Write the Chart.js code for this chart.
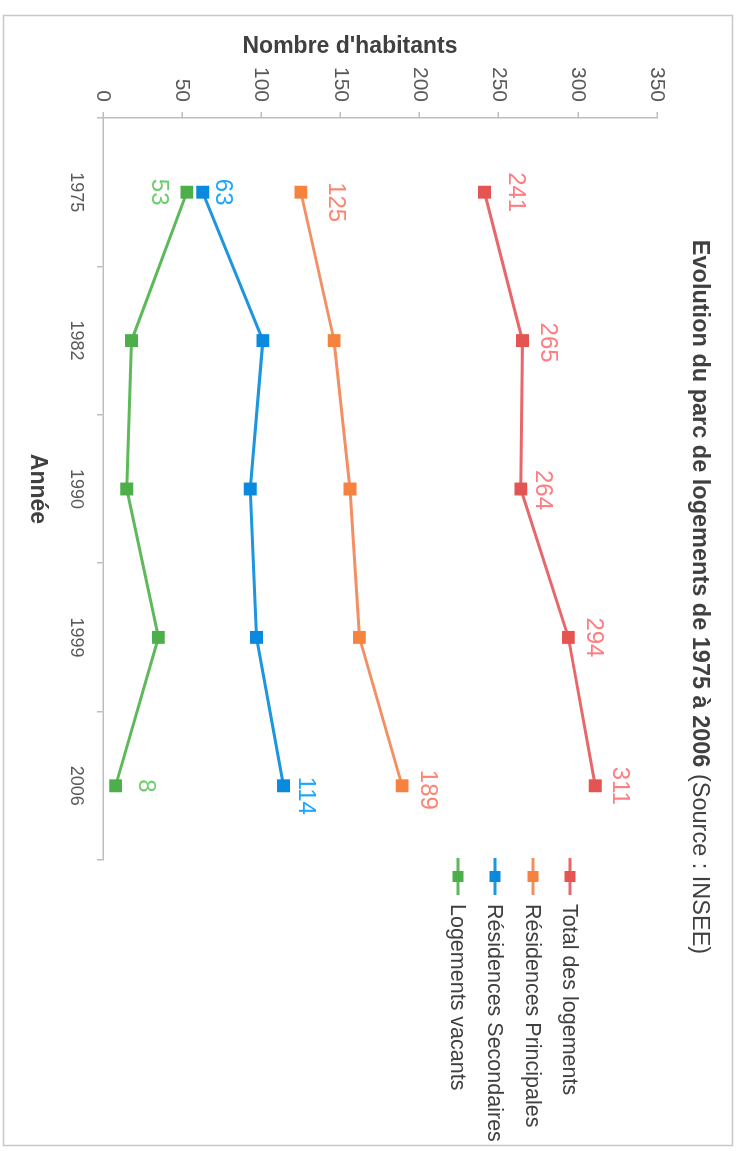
<!DOCTYPE html>
<html>
<head>
<meta charset="utf-8">
<script src="https://cdn.jsdelivr.net/npm/chart.js@4/dist/chart.umd.min.js"></script>
<style>
  html, body { margin: 0; padding: 0; background: #fff; overflow: hidden; }
  body { width: 741px; height: 1151px; position: relative; }
  #wrap {
    position: absolute; left: 0; top: 0;
    width: 1151px; height: 741px;
    transform-origin: 0 0;
    transform: translate(741px, 0) rotate(90deg);
    background: #fff;
  }
  canvas { display: block; }
</style>
</head>
<body>
<div id="wrap"><canvas id="c" width="1151" height="741"></canvas></div>
<script>
// ---- Data ----
const years = ['1975', '1982', '1990', '1999', '2006'];
const totalLogements = [241, 265, 264, 294, 311];
const residencesPrincipales = [125, 146, 156, 162, 189];
const residencesSecondaires = [63, 101, 93, 97, 114];
const logementsVacants = [53, 18, 15, 35, 8];
const seriesNames = ['Total des logements', 'Résidences Principales', 'Résidences Secondaires', 'Logements vacants'];
const yTicks = [0, 50, 100, 150, 200, 250, 300, 350];

const titleBold = 'Evolution du parc de logements de 1975 à 2006';
const titleNormal = ' (Source : INSEE)';
const yTitle = "Nombre d'habitants";
const xTitle = 'Année';

const FONT = "'Liberation Sans', Arial, sans-serif";
Chart.defaults.font.family = FONT;

function ds(label, data, line, marker, labelColor, valueLabels) {
  return {
    label, data,
    borderColor: line, backgroundColor: marker,
    pointBackgroundColor: marker, pointBorderColor: marker,
    borderWidth: 3, pointStyle: 'rect', pointRadius: 7, pointHoverRadius: 7,
    tension: 0, fill: false,
    labelColor, valueLabels
  };
}

const datasets = [
  ds(seriesNames[0], totalLogements, '#E8676A', '#E45452', '#FF7C80',
     [{i:0,dx:0,dy:-31},{i:1,dx:2,dy:-25},{i:2,dx:1,dy:-22},{i:3,dx:0,dy:-25},{i:4,dx:0,dy:-24}]),
  ds(seriesNames[1], residencesPrincipales, '#F38F62', '#F5833F', '#FA8572',
     [{i:0,dx:10,dy:-35},{i:4,dx:4,dy:-25}]),
  ds(seriesNames[2], residencesSecondaires, '#1E96DE', '#0A8ADE', '#1AA6FF',
     [{i:0,dx:0,dy:-20},{i:4,dx:10,dy:-22}]),
  ds(seriesNames[3], logementsVacants, '#5DB95A', '#4DAF4A', '#6ACF6A',
     [{i:0,dx:0,dy:28},{i:4,dx:0,dy:-30}])
];

const framePlugin = {
  id: 'frame',
  beforeDraw(chart) {
    const c = chart.ctx;
    c.save();
    c.fillStyle = '#fff';
    c.fillRect(0, 0, chart.width, chart.height);
    c.strokeStyle = '#C8C8C8';
    c.lineWidth = 1.5;
    c.strokeRect(15.5, 8.5, 1130, 729);
    c.restore();
  }
};

const valueLabelPlugin = {
  id: 'valueLabels',
  afterDatasetsDraw(chart) {
    const c = chart.ctx;
    chart.data.datasets.forEach((d, di) => {
      const meta = chart.getDatasetMeta(di);
      (d.valueLabels || []).forEach(l => {
        const p = meta.data[l.i];
        c.save();
        c.font = '24px ' + FONT;
        c.fillStyle = d.labelColor;
        c.textAlign = 'center';
        c.textBaseline = 'middle';
        c.fillText(String(d.data[l.i]), p.x + l.dx, p.y + l.dy);
        c.restore();
      });
    });
  }
};

const textPlugin = {
  id: 'texts',
  afterDraw(chart) {
    const c = chart.ctx;
    const a = chart.chartArea;
    c.save();
    // Title with mixed weight
    c.fillStyle = '#404040';
    c.textBaseline = 'middle';
    c.font = 'bold 23.5px ' + FONT;
    const wb = c.measureText(titleBold).width;
    c.font = '23.5px ' + FONT;
    const wn = c.measureText(titleNormal).width;
    const cx = 597;
    let x0 = cx - (wb + wn) / 2;
    c.textAlign = 'left';
    c.font = 'bold 23.5px ' + FONT;
    c.fillText(titleBold, x0, 42);
    c.font = '23.5px ' + FONT;
    c.fillText(titleNormal, x0 + wb, 42);

    // Y axis title
    c.save();
    c.translate(47, 391);
    c.rotate(-Math.PI / 2);
    c.textAlign = 'center';
    c.font = 'bold 23px ' + FONT;
    c.fillText(yTitle, 0, 0);
    c.restore();

    // Legend
    const rows = [171, 208, 246, 283];
    chart.data.datasets.forEach((d, i) => {
      const y = rows[i];
      const lx = a.right - 2;
      c.strokeStyle = d.borderColor;
      c.lineWidth = 3;
      c.beginPath();
      c.moveTo(lx, y);
      c.lineTo(lx + 37, y);
      c.stroke();
      c.fillStyle = d.pointBackgroundColor;
      c.fillRect(lx + 18.5 - 5.5, y - 5.5, 11, 11);
      c.fillStyle = '#404040';
      c.font = '21.5px ' + FONT;
      c.textAlign = 'left';
      c.textBaseline = 'middle';
      c.fillText(d.label, lx + 46, y + 1);
    });
    c.restore();
  }
};

new Chart(document.getElementById('c'), {
  type: 'line',
  data: { labels: years, datasets },
  plugins: [framePlugin, valueLabelPlugin, textPlugin],
  options: {
    responsive: false,
    animation: false,
    devicePixelRatio: 1,
    layout: { padding: { left: 0, right: 291, top: 84, bottom: 0 } },
    plugins: {
      legend: { display: false },
      title: { display: false },
      tooltip: { enabled: false }
    },
    scales: {
      x: {
        type: 'category',
        offset: true,
        grid: { display: true, drawOnChartArea: false, drawTicks: true, tickLength: 6, offset: true, color: '#BDBDBD', lineWidth: 1.5 },
        border: { display: true, color: '#BDBDBD', width: 1.5 },
        ticks: { color: '#595959', font: { size: 18 }, padding: 10, maxRotation: 0 },
        title: { display: true, text: xTitle, color: '#404040', font: { size: 23, weight: 'bold' }, padding: { top: 0, bottom: 24 } },
        afterFit(s) { s.height = 103; }
      },
      y: {
        min: 0, max: 350,
        afterBuildTicks(s) { s.ticks = yTicks.map(v => ({ value: v })); },
        grid: { display: true, drawOnChartArea: false, drawTicks: true, tickLength: 6, color: '#BDBDBD', lineWidth: 1.5 },
        border: { display: true, color: '#BDBDBD', width: 1.5 },
        ticks: { color: '#595959', font: { size: 21 }, padding: 10 },
        afterFit(s) { s.width = 118; }
      }
    }
  }
});
</script>
</body>
</html>
